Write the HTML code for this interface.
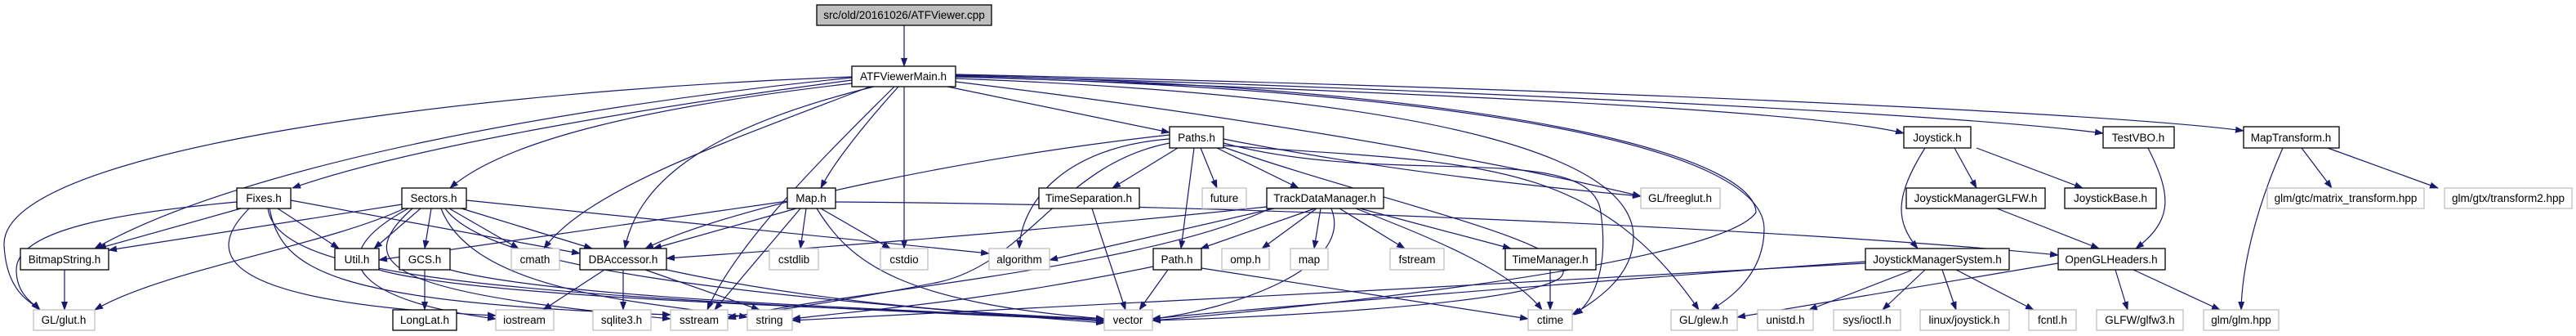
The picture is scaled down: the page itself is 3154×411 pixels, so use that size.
<!DOCTYPE html>
<html><head><meta charset="utf-8"><style>
html,body{margin:0;padding:0;background:#fff;width:3154px;height:411px;overflow:hidden}
svg{display:block}
text{font-family:"Liberation Sans",Arial,sans-serif;font-size:13.5px;fill:#000;text-anchor:middle}
.e{fill:none;stroke:#191970;stroke-width:1.2;marker-end:url(#a)}
.b{fill:#fff;stroke:#000;stroke-width:1.3}
.g{fill:#fff;stroke:#bfbfbf;stroke-width:1.3}
</style></head><body>
<svg width="3154" height="411" viewBox="0 0 3154 411" xmlns="http://www.w3.org/2000/svg">
<defs><marker id="a" markerWidth="11" markerHeight="8" refX="10" refY="4" orient="auto" markerUnits="userSpaceOnUse"><path d="M0,0 L11,4 L0,8z" fill="#191970"/></marker></defs>
<g>
<path class="e" d="M1107,31 L1107,81"/>
<!-- ATF -->
<path class="e" d="M1043,98 C800,130 500,180 358,230"/>
<path class="e" d="M1043,102 C800,130 620,170 551,230"/>
<path class="e" d="M1043,95 C700,130 300,200 116,304"/>
<path class="e" d="M1043,94 C600,110 0,180 5,300 C8,360 40,370 49,379"/>
<path class="e" d="M1065,106 C900,170 720,230 666,304"/>
<path class="e" d="M1070,106 C850,160 780,230 765,304"/>
<path class="e" d="M1095,106 C1000,200 900,300 866,379"/>
<path class="e" d="M1100,106 C1060,150 1020,200 1005,230"/>
<path class="e" d="M1107,106 L1107,304"/>
<path class="e" d="M1160,106 L1432,162"/>
<path class="e" d="M1170,100 C1500,140 1800,190 2009,240"/>
<path class="e" d="M1170,96 C1800,120 2000,200 2000,290 C2000,340 1950,370 1925,385"/>
<path class="e" d="M1170,94 C1800,110 2160,180 2160,280 C2160,340 2110,370 2095,379"/>
<path class="e" d="M1170,92 C1900,110 2150,200 2150,260 C2100,330 1500,385 1411,392"/>
<path class="e" d="M1170,93 C1600,110 2200,130 2331,163"/>
<path class="e" d="M1170,92 C1800,110 2400,140 2575,163"/>
<path class="e" d="M1170,91 C2000,110 2600,140 2747,160"/>
<!-- Fixes -->
<path class="e" d="M290,247 C150,260 20,280 20,330 C20,360 40,370 48,379"/>
<path class="e" d="M295,255 L120,304"/>
<path class="e" d="M340,255 L415,304"/>
<path class="e" d="M356,245 L710,310"/>
<path class="e" d="M305,255 C250,310 260,370 607,386"/>
<path class="e" d="M330,255 C345,330 400,370 821,385"/>
<path class="e" d="M328,255 C340,340 600,360 1352,392"/>
<!-- Sectors -->
<path class="e" d="M492,250 L133,306"/>
<path class="e" d="M495,255 C400,300 200,330 116,379"/>
<path class="e" d="M515,255 L458,304"/>
<path class="e" d="M528,255 L520,304"/>
<path class="e" d="M550,255 L635,304"/>
<path class="e" d="M565,255 L725,304"/>
<path class="e" d="M571,245 L1211,310"/>
<path class="e" d="M500,255 C380,320 450,370 607,390"/>
<path class="e" d="M505,255 C420,330 500,360 821,390"/>
<path class="e" d="M540,255 C580,360 800,370 915,388"/>
<path class="e" d="M545,255 C600,330 900,360 1352,395"/>
<!-- Map -->
<path class="e" d="M964,246 L464,318"/>
<path class="e" d="M975,255 L800,304"/>
<path class="e" d="M987,255 L980,304"/>
<path class="e" d="M1005,255 L1090,304"/>
<path class="e" d="M980,255 L875,379"/>
<path class="e" d="M1000,255 C1040,320 1100,370 1352,390"/>
<path class="e" d="M1023,247 C1500,250 2200,280 2520,312"/>
<!-- misc -->
<path class="e" d="M79,330 L79,379"/>
<path class="e" d="M464,330 C600,370 1200,380 1352,392"/>
<path class="e" d="M520,330 L520,379"/>
<path class="e" d="M551,330 C700,370 1200,380 1352,393"/>
<path class="e" d="M740,330 L665,379"/>
<path class="e" d="M763,330 L763,379"/>
<path class="e" d="M790,330 L930,379"/>
<path class="e" d="M816,330 C1000,370 1200,385 1352,390"/>
<!-- Paths -->
<path class="e" d="M1432,165 C1200,190 900,250 790,304"/>
<path class="e" d="M1432,170 C1300,180 1250,250 1248,304"/>
<path class="e" d="M1442,181 L1362,230"/>
<path class="e" d="M1470,181 L1490,230"/>
<path class="e" d="M1490,181 L1590,230"/>
<path class="e" d="M1462,181 L1446,304"/>
<path class="e" d="M1498,170 C1700,210 1900,230 2009,240"/>
<path class="e" d="M1498,175 C1700,230 1950,170 1960,260 C1970,330 1950,370 1928,385"/>
<path class="e" d="M1498,178 C1800,200 1950,190 2080,379"/>
<path class="e" d="M1498,180 C1700,250 1950,300 1910,340 C1860,375 1500,390 1411,392"/>
<path class="e" d="M1432,175 C1300,200 1260,320 1150,345 C1050,365 950,380 891,388"/>
<path class="e" d="M1337,255 L1378,379"/>
<!-- TDM -->
<path class="e" d="M1551,253 C1200,290 900,310 816,316"/>
<path class="e" d="M1560,255 L1285,318"/>
<path class="e" d="M1610,255 L1470,304"/>
<path class="e" d="M1612,255 L1545,304"/>
<path class="e" d="M1617,255 L1609,304"/>
<path class="e" d="M1640,255 L1720,304"/>
<path class="e" d="M1665,255 L1850,304"/>
<path class="e" d="M1660,255 C1750,290 1850,330 1888,379"/>
<path class="e" d="M1630,255 C1660,330 1500,380 1411,390"/>
<path class="e" d="M1555,255 C1400,330 1000,360 891,390"/>
<!-- Path -->
<path class="e" d="M1430,330 L1395,379"/>
<path class="e" d="M1471,328 L1871,390"/>
<path class="e" d="M1412,326 C1200,370 1050,380 970,390"/>
<path class="e" d="M1898,330 L1898,379"/>
<!-- Joystick etc -->
<path class="e" d="M2393,181 L2420,230"/>
<path class="e" d="M2420,181 L2550,230"/>
<path class="e" d="M2357,181 C2320,240 2320,270 2348,304"/>
<path class="e" d="M2445,255 L2570,304"/>
<path class="e" d="M2630,181 C2660,240 2660,270 2615,304"/>
<path class="e" d="M2795,181 C2760,260 2745,330 2744,379"/>
<path class="e" d="M2818,181 L2855,230"/>
<path class="e" d="M2850,181 L2985,230"/>
<path class="e" d="M2342,330 L2215,379"/>
<path class="e" d="M2357,330 L2305,379"/>
<path class="e" d="M2378,330 L2395,379"/>
<path class="e" d="M2395,330 L2490,379"/>
<path class="e" d="M2284,320 C2000,340 1500,380 1411,390"/>
<path class="e" d="M2284,322 C1900,345 1100,385 970,392"/>
<path class="e" d="M2520,322 L2127,388"/>
<path class="e" d="M2590,330 L2605,379"/>
<path class="e" d="M2612,330 L2718,379"/>
</g>
<g>
<rect x="1000" y="6" width="214" height="25" fill="#bfbfbf" stroke="#000" stroke-width="1.3"/><text x="1107" y="23">src/old/20161026/ATFViewer.cpp</text>
<rect class="b" x="1043" y="81" width="127" height="25"/><text x="1106" y="98">ATFViewerMain.h</text>
<rect class="b" x="1432" y="155" width="66" height="26"/><text x="1465" y="173">Paths.h</text>
<rect class="b" x="2331" y="155" width="82" height="26"/><text x="2372" y="173">Joystick.h</text>
<rect class="b" x="2575" y="155" width="87" height="26"/><text x="2618" y="173">TestVBO.h</text>
<rect class="b" x="2747" y="155" width="117" height="26"/><text x="2805" y="173">MapTransform.h</text>

<rect class="b" x="290" y="230" width="66" height="25"/><text x="323" y="247">Fixes.h</text>
<rect class="b" x="492" y="230" width="79" height="25"/><text x="531" y="247">Sectors.h</text>
<rect class="b" x="964" y="230" width="59" height="25"/><text x="993" y="247">Map.h</text>
<rect class="b" x="1272" y="230" width="123" height="25"/><text x="1333" y="247">TimeSeparation.h</text>
<rect class="g" x="1472" y="230" width="54" height="25"/><text x="1499" y="247">future</text>
<rect class="b" x="1551" y="230" width="143" height="25"/><text x="1622" y="247">TrackDataManager.h</text>
<rect class="g" x="2009" y="230" width="97" height="25"/><text x="2057" y="247">GL/freeglut.h</text>
<rect class="b" x="2334" y="230" width="170" height="25"/><text x="2419" y="247">JoystickManagerGLFW.h</text>
<rect class="b" x="2528" y="230" width="112" height="25"/><text x="2584" y="247">JoystickBase.h</text>
<rect class="g" x="2776" y="230" width="192" height="25"/><text x="2872" y="247">glm/gtc/matrix_transform.hpp</text>
<rect class="g" x="2993" y="230" width="156" height="25"/><text x="3071" y="247">glm/gtx/transform2.hpp</text>

<rect class="b" x="25" y="304" width="108" height="26"/><text x="79" y="322">BitmapString.h</text>
<rect class="b" x="410" y="304" width="54" height="26"/><text x="437" y="322">Util.h</text>
<rect class="b" x="489" y="304" width="62" height="26"/><text x="520" y="322">GCS.h</text>
<rect class="g" x="626" y="304" width="59" height="26"/><text x="655" y="322">cmath</text>
<rect class="b" x="710" y="304" width="106" height="26"/><text x="763" y="322">DBAccessor.h</text>
<rect class="g" x="942" y="304" width="60" height="26"/><text x="972" y="322">cstdlib</text>
<rect class="g" x="1078" y="304" width="58" height="26"/><text x="1107" y="322">cstdio</text>
<rect class="g" x="1211" y="304" width="74" height="26"/><text x="1248" y="322">algorithm</text>
<rect class="b" x="1412" y="304" width="59" height="26"/><text x="1441" y="322">Path.h</text>
<rect class="g" x="1496" y="304" width="58" height="26"/><text x="1525" y="322">omp.h</text>
<rect class="g" x="1580" y="304" width="46" height="26"/><text x="1603" y="322">map</text>
<rect class="g" x="1702" y="304" width="66" height="26"/><text x="1735" y="322">fstream</text>
<rect class="b" x="1843" y="304" width="111" height="26"/><text x="1898" y="322">TimeManager.h</text>
<rect class="b" x="2284" y="304" width="176" height="26"/><text x="2372" y="322">JoystickManagerSystem.h</text>
<rect class="b" x="2520" y="304" width="131" height="26"/><text x="2585" y="322">OpenGLHeaders.h</text>

<rect class="g" x="41" y="379" width="75" height="25"/><text x="78" y="396">GL/glut.h</text>
<rect class="b" x="481" y="379" width="78" height="25"/><text x="520" y="396">LongLat.h</text>
<rect class="g" x="607" y="379" width="71" height="25"/><text x="642" y="396">iostream</text>
<rect class="g" x="726" y="379" width="71" height="25"/><text x="761" y="396">sqlite3.h</text>
<rect class="g" x="821" y="379" width="70" height="25"/><text x="856" y="396">sstream</text>
<rect class="g" x="915" y="379" width="55" height="25"/><text x="942" y="396">string</text>
<rect class="g" x="1352" y="379" width="59" height="25"/><text x="1381" y="396">vector</text>
<rect class="g" x="1871" y="379" width="54" height="25"/><text x="1898" y="396">ctime</text>
<rect class="g" x="2046" y="379" width="81" height="25"/><text x="2086" y="396">GL/glew.h</text>
<rect class="g" x="2152" y="379" width="68" height="25"/><text x="2186" y="396">unistd.h</text>
<rect class="g" x="2245" y="379" width="82" height="25"/><text x="2286" y="396">sys/ioctl.h</text>
<rect class="g" x="2351" y="379" width="109" height="25"/><text x="2405" y="396">linux/joystick.h</text>
<rect class="g" x="2484" y="379" width="58" height="25"/><text x="2513" y="396">fcntl.h</text>
<rect class="g" x="2567" y="379" width="106" height="25"/><text x="2620" y="396">GLFW/glfw3.h</text>
<rect class="g" x="2698" y="379" width="92" height="25"/><text x="2744" y="396">glm/glm.hpp</text>
</g>
</svg>
</body></html>
